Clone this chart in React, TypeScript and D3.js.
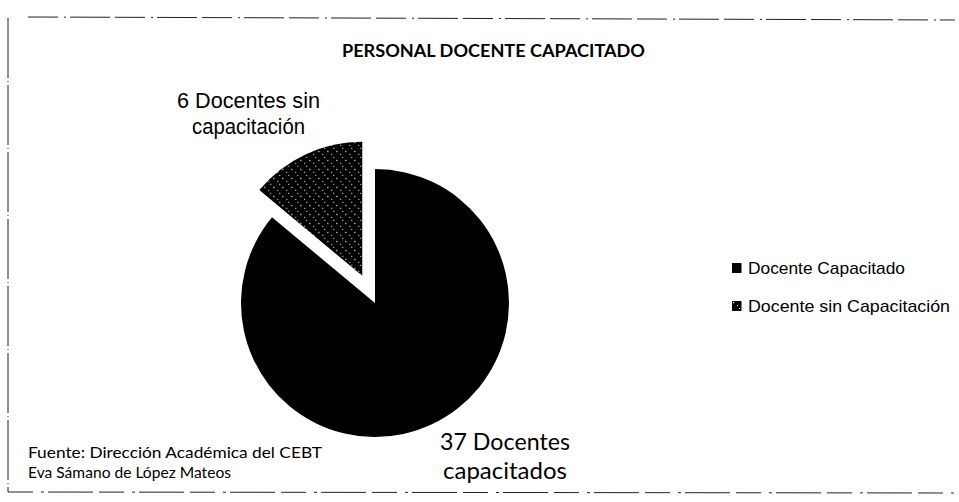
import React from "react";
import * as d3 from "d3";

const categories = ["Docente Capacitado", "Docente sin Capacitación"];
const values = [37, 6];
const sliceLabels = [
  ["37 Docentes", "capacitados"],
  ["6 Docentes sin", "capacitación"],
];
const title = "PERSONAL DOCENTE CAPACITADO";
const sourceLines = ["Fuente: Dirección Académica del CEBT", "Eva Sámano de López Mateos"];

const W = 959;
const H = 502;
const cx = 375;
const cy = 303;
const R = 134;
const explode = [0, 30];

export default function App() {
  const pie = d3.pie<number>().sort(null).value((d) => d)(values);
  const arc = d3.arc<d3.PieArcDatum<number>>().innerRadius(0).outerRadius(R);
  const fills = ["#000", "url(#speckle)"];
  const arial = "'Liberation Sans', Arial, sans-serif";
  const calibri = "Lato, 'Open Sans', sans-serif";
  const adj = "spacingAndGlyphs";

  return (
    <div style={{ position: "absolute", left: 0, top: 0 }}>
      <svg width={W} height={H} viewBox={`0 0 ${W} ${H}`} style={{ display: "block", background: "#fff" }}>
        <defs>
          <pattern id="speckle" width="9" height="9" patternUnits="userSpaceOnUse">
            <rect width="9" height="9" fill="#000" />
            <rect x="1" y="1" width="1.2" height="1.2" fill="#fff" />
            <rect x="5" y="4" width="1" height="1" fill="#fff" />
            <rect x="7" y="7" width="1" height="1" fill="#fff" />
          </pattern>
        </defs>

        {/* scanned border */}
        <g stroke="#222" fill="none" strokeWidth={1}>
          <line x1={28} y1={17} x2={955} y2={20} strokeDasharray="30 6 2 4 40 5" />
          <line x1={8} y1={18} x2={8} y2={492} strokeDasharray="60 3 1 3" />
          <line x1={8} y1={492} x2={955} y2={493} strokeDasharray="25 8 3 4 45 6" />
        </g>

        <text x={342} y={57} fontFamily={calibri} fontWeight={700} fontSize={16.5} fill="#000"
          textLength={303} lengthAdjust={adj}>
          {title}
        </text>

        <g>
          {pie.map((p, i) => {
            const mid = (p.startAngle + p.endAngle) / 2;
            const dx = Math.sin(mid) * explode[i];
            const dy = -Math.cos(mid) * explode[i];
            return (
              <path
                key={i}
                d={arc(p) || ""}
                transform={`translate(${cx + dx},${cy + dy})`}
                fill={fills[i]}
              />
            );
          })}
        </g>

        {/* data labels */}
        <text fontFamily={calibri} fontSize={24} fill="#000">
          <tspan x={440} y={450} textLength={130} lengthAdjust={adj}>{sliceLabels[0][0]}</tspan>
        </text>
        <text fontFamily={calibri} fontSize={24} fill="#000">
          <tspan x={443} y={479} textLength={124} lengthAdjust={adj}>{sliceLabels[0][1]}</tspan>
        </text>
        <text fontFamily={arial} fontSize={22} fill="#000">
          <tspan x={177} y={108} textLength={143} lengthAdjust={adj}>{sliceLabels[1][0]}</tspan>
        </text>
        <text fontFamily={arial} fontSize={22} fill="#000">
          <tspan x={192} y={134} textLength={113} lengthAdjust={adj}>{sliceLabels[1][1]}</tspan>
        </text>

        {/* legend */}
        {categories.map((c, i) => (
          <g key={c} transform={`translate(732,${263 + i * 38})`}>
            <rect x={0} y={0} width={9.5} height={10} fill={fills[i]} />
            <text x={16} y={10.5} fontFamily={arial} fontSize={17} fill="#000"
              textLength={i === 0 ? 157 : 202} lengthAdjust={adj}>{c}</text>
          </g>
        ))}

        {/* source */}
        <text fontFamily={calibri} fontSize={16} fill="#000">
          <tspan x={28} y={458} textLength={294} lengthAdjust={adj}>{sourceLines[0]}</tspan>
        </text>
        <text fontFamily={calibri} fontSize={16} fill="#000">
          <tspan x={28} y={478} textLength={203} lengthAdjust={adj}>{sourceLines[1]}</tspan>
        </text>
      </svg>
    </div>
  );
}
